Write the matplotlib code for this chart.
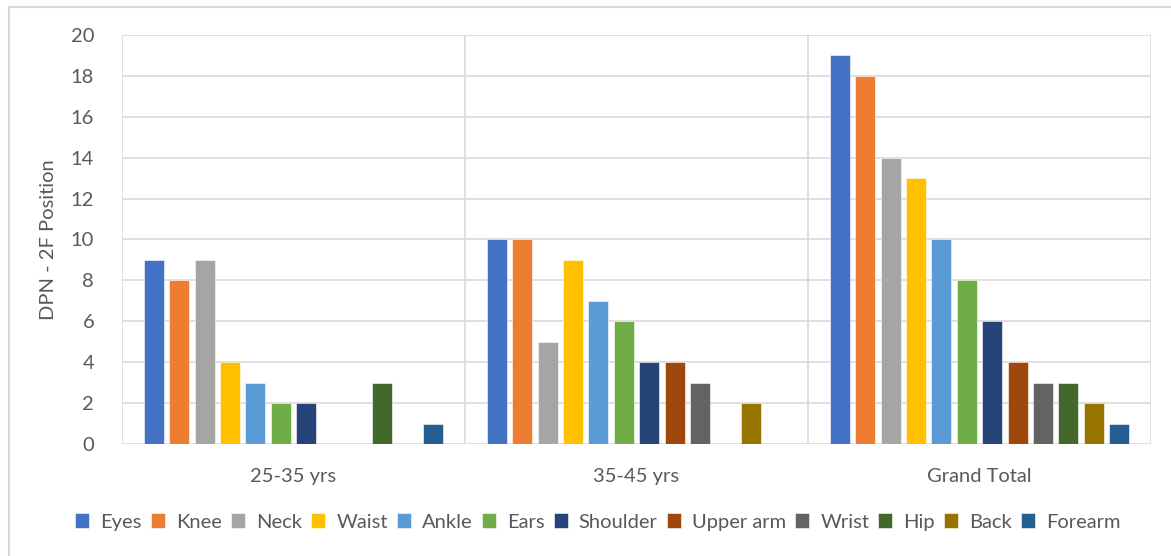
import matplotlib.pyplot as plt
from matplotlib.patches import Rectangle
import numpy as np

# Données
groupes = ["25-35 yrs", "35-45 yrs", "Grand Total"]
parties = ["Eyes", "Knee", "Neck", "Waist", "Ankle", "Ears", "Shoulder",
           "Upper arm", "Wrist", "Hip", "Back", "Forearm"]
val_25_35 = [9, 8, 9, 4, 3, 2, 2, 0, 0, 3, 0, 1]
val_35_45 = [10, 10, 5, 9, 7, 6, 4, 4, 3, 0, 2, 0]
val_total = [19, 18, 14, 13, 10, 8, 6, 4, 3, 3, 2, 1]
yticks = [0, 2, 4, 6, 8, 10, 12, 14, 16, 18, 20]

couleurs = ['#4472C4', '#ED7D31', '#A5A5A5', '#FFC000', '#5B9BD5', '#70AD47',
            '#264478', '#9E480E', '#636363', '#43682B', '#997300', '#255E91']

texte = '#595959'
grille = '#D9D9D9'
plt.rcParams['font.family'] = ['Lato', 'DejaVu Sans']

W, H = 1171, 556
fig = plt.figure(figsize=(W / 100, H / 100), dpi=100)
ax = fig.add_axes([122 / W, 1 - 444 / H, (1151 - 122) / W, (444 - 35) / H])

donnees = np.array([val_25_35, val_35_45, val_total])
x = np.arange(len(groupes))
pas = 0.0741
largeur = 0.0583
for i, (nom, c) in enumerate(zip(parties, couleurs)):
    ax.bar(x + (i - 5.5) * pas, donnees[:, i], width=largeur, color=c,
           edgecolor='white', linewidth=0.4, label=nom, zorder=3)

ax.set_xlim(-0.5, 2.5)
ax.set_ylim(0, 20)
ax.set_yticks(yticks)
ax.set_xticks(x)
ax.set_xticklabels(groupes)

# Grille horizontale + séparateurs verticaux entre catégories
for y in yticks:
    ax.axhline(y, color=grille, linewidth=1.2, zorder=1)
for xs in [-0.5, 0.5, 1.5, 2.5]:
    ax.axvline(xs, color=grille, linewidth=1.2, zorder=1)
for s in ax.spines.values():
    s.set_visible(False)

ax.tick_params(axis='both', length=0, colors=texte, labelsize=14.5)
ax.tick_params(axis='y', pad=20)
ax.tick_params(axis='x', pad=17)
ax.set_ylabel("DPN - 2F Position", fontsize=14.5, color=texte, labelpad=10)

fig.legend(loc='center', bbox_to_anchor=(598 / W, 1 - 522 / H), ncol=12,
           frameon=False, fontsize=14.5, handlelength=0.7, handleheight=0.7,
           handletextpad=0.55, columnspacing=0.45, labelcolor=texte)

# Cadre extérieur du graphique
fig.patches.append(Rectangle((9 / W, -0.1), 1.2, 1 - 7 / H + 0.1,
                             transform=fig.transFigure, fill=False,
                             edgecolor=grille, linewidth=1.5))

fig.savefig("out.png", dpi=100)
